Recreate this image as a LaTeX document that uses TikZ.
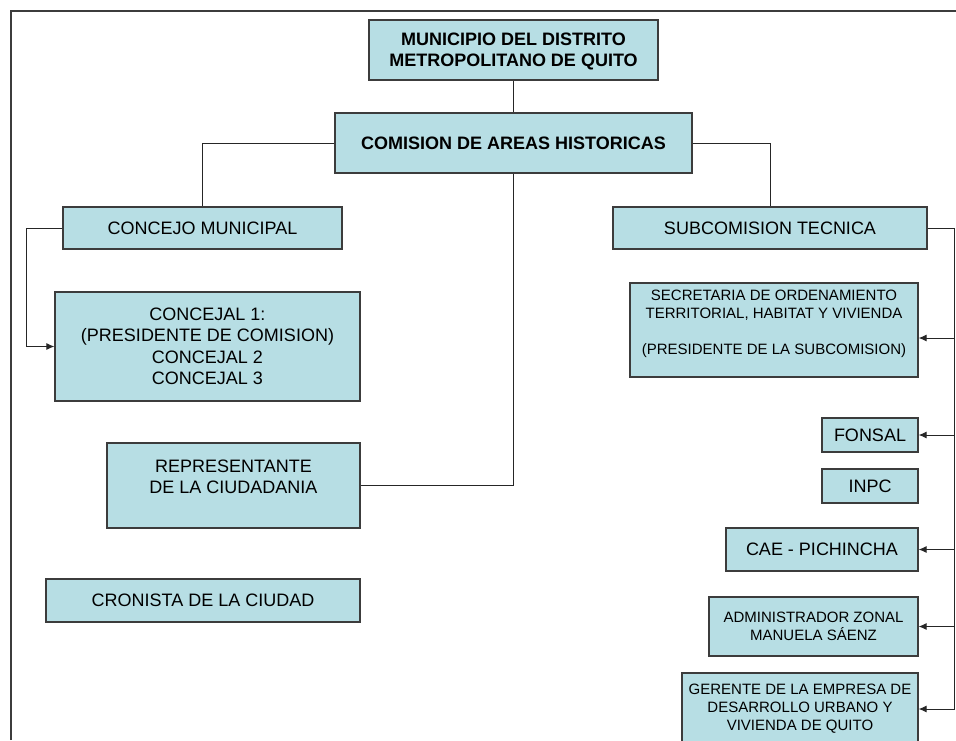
\documentclass[tikz,border=0pt]{standalone}
\usepackage{fontspec}
\setmainfont{Liberation Sans}
\usetikzlibrary{arrows.meta}
\definecolor{cajaazul}{RGB}{183,222,228}
\definecolor{bordegris}{RGB}{60,60,60}
\tikzset{
  caja/.style={draw=bordegris, fill=cajaazul, line width=1.2pt, inner sep=0pt,
    align=center, font=\fontsize{18}{21.5}\selectfont},
  cajachica/.style={caja, font=\fontsize{15}{18}\selectfont},
  cajanegra/.style={caja, font=\fontsize{18}{21}\selectfont\bfseries},
  linea/.style={draw=black!85, line width=1pt},
  flecha/.style={linea, -{Latex[length=8pt,width=7pt]}},
}

\begin{document}
\begin{tikzpicture}[x=1pt, y=-1pt]
  \useasboundingbox (0,0) rectangle (956,740);
  \fill[white] (0,0) rectangle (956,740);
  % marco
  \draw[line width=1.5pt, bordegris] (11,740) -- (11,11) -- (956,11);

  % cajas
  \node[cajanegra, minimum width=289pt, minimum height=60pt] (municipio) at (513.5,50)
    {\strut MUNICIPIO DEL DISTRITO\\METROPOLITANO DE QUITO};
  \node[cajanegra, minimum width=357pt, minimum height=60pt] (comision) at (513.5,143)
    {COMISION DE AREAS HISTORICAS};
  \node[caja, minimum width=279pt, minimum height=42pt] (concejo) at (202.5,228)
    {CONCEJO MUNICIPAL};
  \node[caja, minimum width=314pt, minimum height=42pt] (subcom) at (770,228)
    {SUBCOMISION TECNICA};
  \node[caja, minimum width=305pt, minimum height=109pt] (concejal) at (207.5,346.5)
    {CONCEJAL 1:\\(PRESIDENTE DE COMISION)\\CONCEJAL 2\\CONCEJAL 3};
  \node[caja, minimum width=253pt, minimum height=85pt] (repres) at (233.5,485.5)
    {REPRESENTANTE\\DE LA CIUDADANIA\\[-10pt] \strut};
  \node[caja, minimum width=314pt, minimum height=43pt] (cronista) at (203,600.5)
    {CRONISTA DE LA CIUDAD};
  \node[cajachica, minimum width=288pt, minimum height=94pt] (secret) at (774,330)
    {SECRETARIA DE ORDENAMIENTO\\TERRITORIAL, HABITAT Y VIVIENDA\\ \strut\\(PRESIDENTE DE LA SUBCOMISION)\\[-8pt] \strut};
  \node[caja, minimum width=96pt, minimum height=34pt] (fonsal) at (870,435) {FONSAL};
  \node[caja, minimum width=96pt, minimum height=34pt] (inpc) at (870,486) {INPC};
  \node[caja, minimum width=192pt, minimum height=43pt] (cae) at (822,549.5) {CAE - PICHINCHA};
  \node[cajachica, minimum width=209pt, minimum height=59pt] (admin) at (813.5,626.5)
    {ADMINISTRADOR ZONAL\\MANUELA SÁENZ};
  \node[cajachica, minimum width=236pt, minimum height=72pt] (gerente) at (800,709)
    {GERENTE DE LA EMPRESA DE\\DESARROLLO URBANO Y\\VIVIENDA DE QUITO};
  \coordinate (secretpunta) at ([yshift=-8pt]secret.east);

  % conexiones
  \draw[linea] (municipio) -- (comision);
  \draw[linea] (comision.west) -| (concejo.north);
  \draw[linea] (comision.east) -| (subcom.north);
  \draw[linea] (comision.south) |- (repres.east);
  \draw[flecha] (concejo.west) -- ++(-36,0) coordinate (codo) |- (concejal.west);
  \draw[linea] (subcom.east) -- ++(27,0) coordinate (bus) -- (bus |- gerente.east);
  \foreach \destino in {secretpunta, fonsal.east, cae.east, admin.east, gerente.east}
    \draw[flecha] (bus |- \destino) -- (\destino);
\end{tikzpicture}
\end{document}
